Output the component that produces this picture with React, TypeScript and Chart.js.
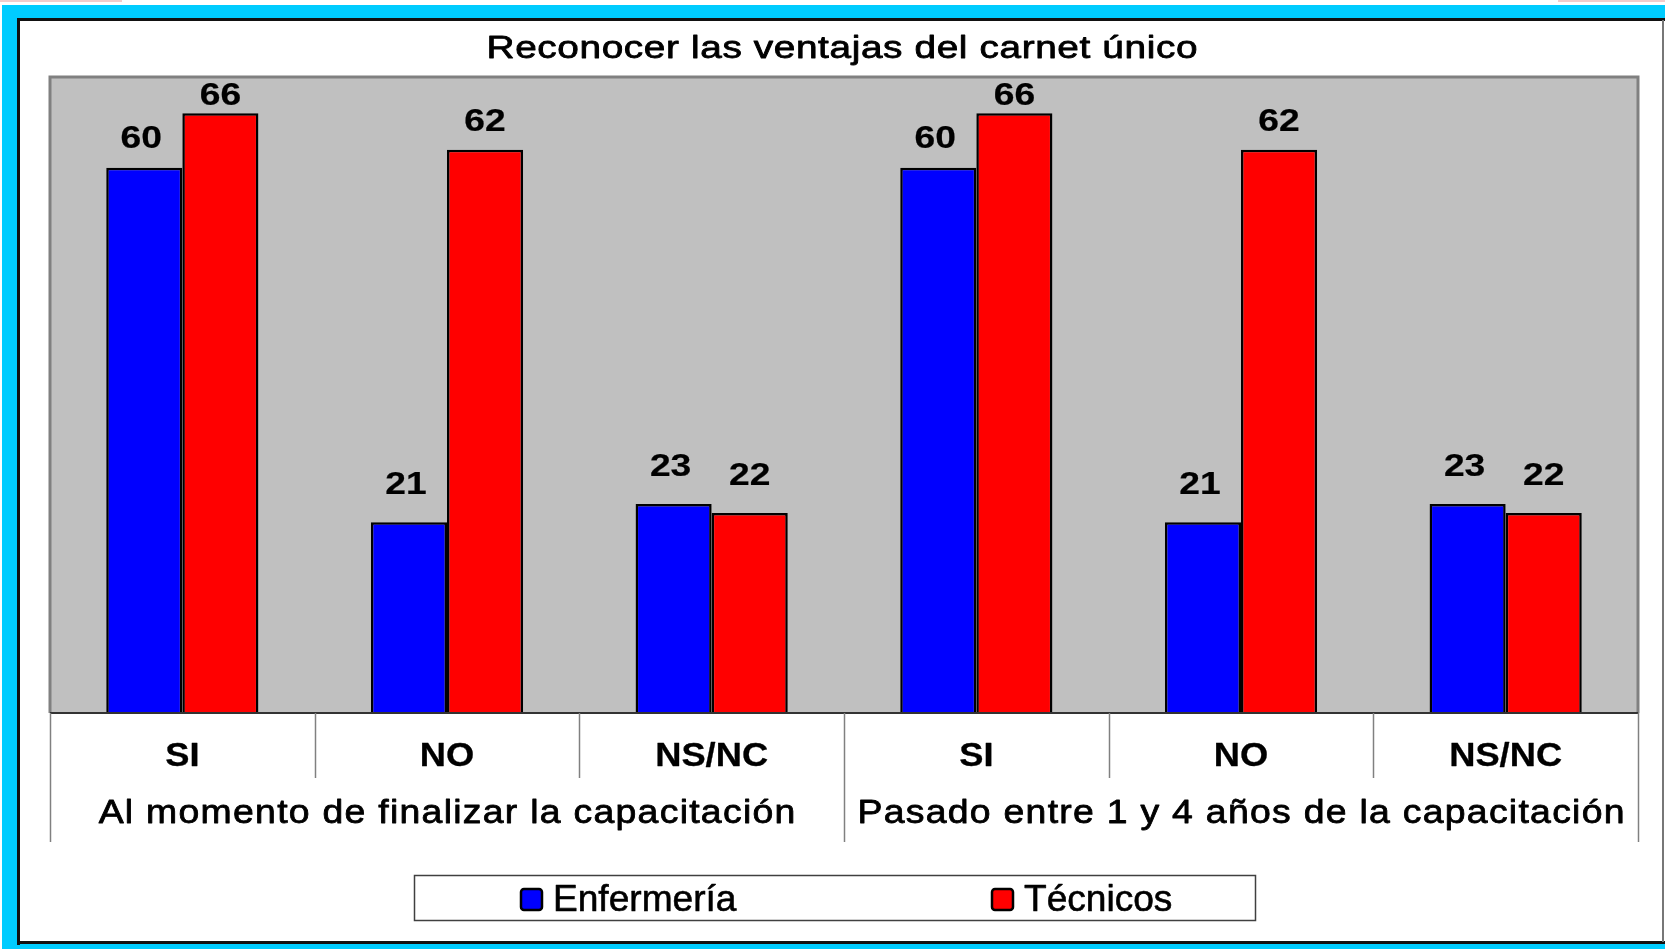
import { useEffect, useRef } from "react";
import { Chart, registerables } from "chart.js";

Chart.register(...registerables);

const chartTitle = "Reconocer las ventajas del carnet único";
const categories = ["SI", "NO", "NS/NC", "SI", "NO", "NS/NC"];
const groups = [
  "Al momento de finalizar la capacitación",
  "Pasado entre 1 y 4 años de la capacitación",
];
const groupSize = 3;
const seriesNames = ["Enfermería", "Técnicos"];
const enfermeria = [60, 21, 23, 60, 21, 23];
const tecnicos = [66, 62, 22, 66, 62, 22];
const yMax = 70;

const FONT = "'Liberation Sans', Arial, sans-serif";
const CYAN = "#00CCFF";
const PLOT_GRAY = "#C0C0C0";

function drawText(
  ctx: CanvasRenderingContext2D,
  text: string,
  x: number,
  y: number,
  font: string,
  scaleX: number,
  spacing: number,
  align: "center" | "left" = "center",
  weight = 0
) {
  ctx.save();
  ctx.font = font;
  (ctx as any).letterSpacing = spacing + "px";
  ctx.textAlign = "left";
  ctx.textBaseline = "alphabetic";
  const w = ctx.measureText(text).width - spacing;
  const startX = align === "center" ? x - (w * scaleX) / 2 : x;
  ctx.translate(startX, y);
  ctx.scale(scaleX, 1);
  ctx.fillStyle = "#000";
  ctx.fillText(text, 0, 0);
  if (weight > 0) {
    ctx.strokeStyle = "#000";
    ctx.lineWidth = weight;
    ctx.lineJoin = "round";
    ctx.strokeText(text, 0, 0);
  }
  ctx.restore();
}

const framePlugin = {
  id: "frame",
  beforeDraw(chart: any) {
    const ctx: CanvasRenderingContext2D = chart.ctx;
    const W = chart.width;
    const H = chart.height;
    const a = chart.chartArea;
    ctx.save();
    ctx.fillStyle = "#fff";
    ctx.fillRect(0, 0, W, H);
    ctx.fillStyle = "#f2cccc";
    ctx.fillRect(0, 0, 122, 2);
    ctx.fillRect(1558, 0, W - 1558, 2);
    ctx.fillStyle = CYAN;
    ctx.fillRect(2, 5, W - 2, H - 5);
    ctx.fillStyle = "#fff";
    ctx.fillRect(18, 19, W - 18, 925);
    ctx.fillStyle = "#111";
    ctx.fillRect(17, 18, W - 17, 3);
    ctx.fillRect(17, 18, 3, 927);
    ctx.fillRect(17, 941, W - 17, 3);
    ctx.fillStyle = "#777";
    ctx.fillRect(1662, 20, 2, 922);
    ctx.fillStyle = PLOT_GRAY;
    ctx.fillRect(a.left, a.top, a.right - a.left, a.bottom - a.top);
    ctx.restore();
  },
  afterDatasetsDraw(chart: any) {
    const ctx: CanvasRenderingContext2D = chart.ctx;
    const a = chart.chartArea;
    const xs = chart.scales.x;
    const n = categories.length;
    const step = (a.right - a.left) / n;
    ctx.save();
    // plot border
    ctx.strokeStyle = "#808080";
    ctx.lineWidth = 3;
    ctx.beginPath();
    ctx.moveTo(a.left, a.bottom);
    ctx.lineTo(a.left, a.top);
    ctx.lineTo(a.right, a.top);
    ctx.lineTo(a.right, a.bottom);
    ctx.stroke();
    // axis line
    ctx.strokeStyle = "#333";
    ctx.lineWidth = 2;
    ctx.beginPath();
    ctx.moveTo(a.left, a.bottom);
    ctx.lineTo(a.right, a.bottom);
    ctx.stroke();
    // dividers
    ctx.strokeStyle = "#808080";
    ctx.lineWidth = 1.5;
    for (let i = 0; i <= n; i++) {
      const x = Math.round(a.left + i * step) + 0.5;
      const isGroup = i % groupSize === 0;
      ctx.beginPath();
      ctx.moveTo(x, a.bottom);
      ctx.lineTo(x, a.bottom + (isGroup ? 129 : 65));
      ctx.stroke();
    }
    ctx.restore();

    // category labels
    categories.forEach((c, i) => {
      const x = xs.getPixelForValue(i);
      drawText(ctx, c, x, a.bottom + 53, `bold 33px ${FONT}`, 1.1, 0, "center", 0.3);
    });
    // group labels
    groups.forEach((g, gi) => {
      const x0 = a.left + gi * groupSize * step;
      const x1 = x0 + groupSize * step;
      drawText(ctx, g, (x0 + x1) / 2, a.bottom + 110, `34px ${FONT}`, 1.1, 1.15, "center", 0.8);
    });

    // value labels
    chart.data.datasets.forEach((ds: any, di: number) => {
      const meta = chart.getDatasetMeta(di);
      meta.data.forEach((bar: any, i: number) => {
        const frac = (bar.base - bar.y) / (a.bottom - a.top);
        const off = 18 + 15 * (1 - frac / 0.943);
        const y = Math.max(bar.y - off, a.top + 28);
        drawText(ctx, String(ds.data[i]), bar.x - (di === 0 ? 3 : 0), y, `bold 31px ${FONT}`, 1.2, 0, "center", 0.2);
      });
    });

    // title
    drawText(ctx, chartTitle, (a.left + a.right) / 2 - 2, 58, `31px ${FONT}`, 1.25, 0.5, "center", 0.8);

    // legend
    ctx.save();
    ctx.fillStyle = "#fff";
    ctx.fillRect(414, 875, 841, 45);
    ctx.strokeStyle = "#404040";
    ctx.lineWidth = 1.5;
    ctx.strokeRect(414.5, 875.5, 841, 45);
    ctx.restore();
    const legendX = [520, 991];
    chart.data.datasets.forEach((ds: any, di: number) => {
      const lx = legendX[di];
      ctx.save();
      ctx.fillStyle = ds.backgroundColor;
      ctx.strokeStyle = "#000";
      ctx.lineWidth = 2.5;
      ctx.beginPath();
      (ctx as any).roundRect(lx + 1, 889, 21, 21, 3);
      ctx.fill();
      ctx.stroke();
      ctx.restore();
      drawText(ctx, ds.label, lx + 33, 911, `36px ${FONT}`, 1.03, 0, "left", 0.6);
    });
  },
};

export default function App() {
  const ref = useRef<HTMLCanvasElement>(null);
  useEffect(() => {
    if (!ref.current) return;
    const chart = new Chart(ref.current, {
      type: "bar",
      data: {
        labels: categories,
        datasets: [
          {
            label: seriesNames[0],
            data: enfermeria,
            backgroundColor: "#0000FF",
            borderColor: "#000",
            borderWidth: 2.5,
          },
          {
            label: seriesNames[1],
            data: tecnicos,
            backgroundColor: "#FF0000",
            borderColor: "#000",
            borderWidth: 2.5,
          },
        ],
      },
      options: {
        responsive: false,
        animation: false,
        devicePixelRatio: 1,
        layout: { padding: { left: 50, right: 27, top: 77, bottom: 236 } },
        plugins: {
          legend: { display: false },
          title: { display: false },
          tooltip: { enabled: false },
        },
        datasets: {
          bar: { categoryPercentage: 0.575, barPercentage: 1 },
        },
        scales: {
          x: { display: false },
          y: { display: false, min: 0, max: yMax },
        },
      },
      plugins: [framePlugin],
    });
    return () => chart.destroy();
  }, []);
  return (
    <div style={{ position: "fixed", left: 0, top: 0, width: 1665, height: 949 }}>
      <canvas ref={ref} width={1665} height={949} style={{ width: 1665, height: 949, display: "block" }} />
    </div>
  );
}
